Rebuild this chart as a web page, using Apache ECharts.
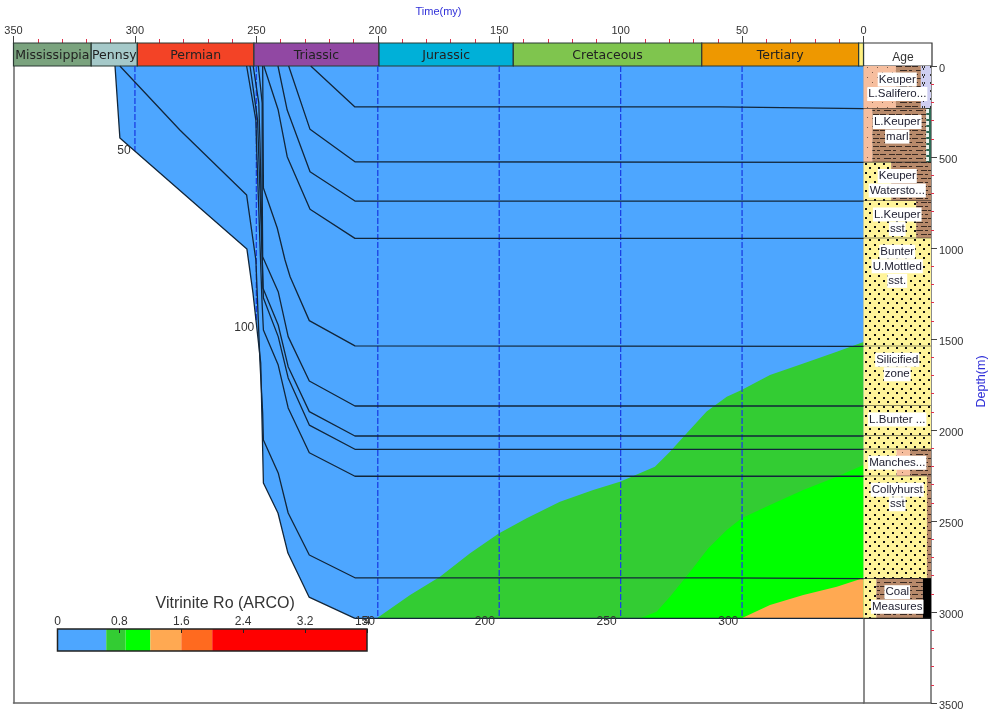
<!DOCTYPE html>
<html style="height: 100%">
<head>
<meta charset="utf-8">
<script src="https://cdn.jsdelivr.net/npm/echarts@6/dist/echarts.min.js"></script>
</head>
<body style="height: 100%; margin: 0; background: #fff">
<div id="container" style="width: 989px; height: 713px"></div>
<script type="text/javascript">
// geologic periods: names, start/end age (my), colour
var periodNames = ['Mississippia', 'Pennsy', 'Permian', 'Triassic', 'Jurassic', 'Cretaceous', 'Tertiary', ''];
var periodAges = [350, 318, 299, 251, 199.5, 144.2, 66.6, 2, 0];
var periodColors = ['#7AA37E', '#A5C9C9', '#F34326', '#9148A3', '#00B0D8', '#7FC54E', '#EE9800', '#FFF080'];

// basin outline [age, depth]
var basinEdge = [[308.2,0],[306.2,396],[253.9,1005],[251.4,1247],[248.2,1632],[247.1,2291],[241.1,2456],[237,2676],[228.3,2918],[209.4,3035]];
var basinBottom = [[209.4,3035],[0,3035]];

// burial history of each horizon [age, depth]
var horizon1 = [[227.6,0],[209.4,225],[59.1,225],[59,234],[0,234]];
var horizon2 = [[236.7,0],[227.9,348],[209.4,526],[0,530]];
var horizon3 = [[241.1,0],[237.3,242],[227.9,581],[209.4,742],[0,742]];
var horizon4 = [[246.9,0],[241,242],[237.3,498],[227.9,787],[209.4,947],[0,947]];
var horizon5 = [[247.4,0],[247.3,203],[247.1,670],[241.4,890],[238.2,1066],[236.1,1158],[228.2,1399],[209.4,1538],[0,1540]];
var horizon6 = [[249.2,0],[247.6,203],[247.6,665],[247.4,1048],[241,1240],[236.9,1487],[228.2,1731],[209.4,1868],[0,1868]];
var horizon7 = [[251.3,0],[249,203],[248.5,423],[247.3,1220],[241,1423],[236.9,1652],[228.2,1899],[209.4,2033],[0,2033]];
var horizon8 = [[252.6,0],[249.5,297],[247.7,1011],[247.1,1275],[241,1487],[236.9,1714],[228.2,1973],[209.4,2106],[0,2106]];
var horizon9 = [[254,0],[250.2,297],[249.9,445],[247.7,1286],[247.1,1451],[241,1643],[236.9,1879],[228.2,2125],[209.4,2254],[0,2254]];
var horizon10 = [[306.2,0],[281.5,352],[254,709],[250.2,1066],[248.5,1632],[247.4,1907],[247.1,2055],[241,2236],[236.9,2456],[228.2,2687],[209.4,2812],[59,2812],[59,2817],[0,2817]];

// Ro zone tops [age, depth]
var zoneGreenTop = [[200.4,3035],[186.7,2906],[174.4,2806],[162,2677],[150.2,2568],[138.7,2485],[125,2394],[111.3,2330],[100.3,2284],[85.9,2202],[79.7,2119],[72.8,2018],[64.6,1899],[56.3,1817],[50.2,1780],[38.5,1698],[24.8,1634],[11,1570],[0,1516]];
var zoneBrightTop = [[92,3035],[85.2,2998],[79.7,2916],[71.4,2779],[63.9,2650],[56.3,2549],[50.2,2485],[38.5,2412],[24.8,2330],[11,2257],[0,2192]];
var zoneOrangeTop = [[50.2,3035],[38.5,2961],[24.8,2906],[11,2861],[0,2813]];

// dashed time lines: age, depth they stop at
var timeLineAges = [300, 250, 200, 150, 100, 50];
var timeLineEnds = [467, 1400, 3035, 3035, 3035, 3035];

// temperature labels on the basin edge
var tempLabels = ['50', '100', '150', '200', '250', '300'];
var tempAges = [304.5, 255, 205.3, 155.9, 105.8, 55.7];
var tempDepths = [467, 1440, 3055, 3055, 3055, 3055];

// colour bar
var roStops = [0, 0.63, 0.88, 1.2, 1.6, 2, 4];
var roColors = ['#4DA6FF', '#33CC33', '#00FF00', '#FFA952', '#FF6A1F', '#FF0000'];

// lithology column
var lithDepths = [0, 234, 530, 742, 947, 1540, 1868, 2033, 2106, 2254, 2817, 3035];
var lithLabels = [['Keuper', 'L.Salifero...'], ['L.Keuper', 'marl'], ['Keuper', 'Watersto...'], ['L.Keuper', 'sst'], ['Bunter', 'U.Mottled', 'sst.'], ['Silicified', 'zone'], ['L.Bunter ...'], [], ['Manches...'], ['Collyhurst', 'sst'], ['Coal', 'Measures']];
var lithRocks = [['silt', 'shale', 'salt'], ['silt', 'shale', 'chert'], ['sand', 'shale'], ['sand', 'shale'], ['sand'], ['sand'], ['sand'], ['sand'], ['sand', 'silt', 'shale'], ['sand', 'shale'], ['sand', 'shale', 'coal']];
var lithEnds = [[48, 85, 100], [13, 93, 100], [41, 100], [78, 100], [100], [100], [100], [100], [49, 69, 100], [94, 100], [19, 88, 100]];

function tile(w, h, bg, draw) {
    var c = document.createElement('canvas');
    c.width = w; c.height = h;
    var ctx = c.getContext('2d');
    ctx.fillStyle = bg;
    ctx.fillRect(0, 0, w, h);
    draw(ctx);
    return { image: c, repeat: 'repeat' };
}
var rockFills = {
    sand: tile(9, 9, '#FFF49A', function (g) {
        g.fillStyle = '#111';
        g.fillRect(1, 1, 2, 2);
        g.fillRect(5, 5, 2, 2);
    }),
    silt: tile(10, 10, '#F6BE9E', function (g) {
        g.fillStyle = '#7a5a48';
        g.fillRect(2, 2, 1, 1);
        g.fillRect(7, 7, 1, 1);
    }),
    shale: tile(16, 8, '#B88A6B', function (g) {
        g.fillStyle = '#3a2a22';
        g.fillRect(0, 2, 6, 1);
        g.fillRect(9, 2, 6, 1);
        g.fillRect(4, 6, 7, 1);
        g.fillRect(13, 6, 3, 1);
    }),
    salt: tile(8, 8, '#CFCFF2', function (g) {
        g.fillStyle = '#333';
        g.fillRect(2, 2, 1, 2);
        g.fillRect(4, 2, 1, 2);
        g.fillRect(3, 4, 1, 2);
    }),
    chert: tile(5, 6, '#EAF5EE', function (g) {
        g.strokeStyle = '#2f6b55';
        g.strokeRect(0.5, 0.5, 4, 5);
    }),
    coal: '#000'
};

// filled polygon in age/depth coordinates
function polygonSeries(points, color) {
    return {
        type: 'custom', xAxisIndex: 1, yAxisIndex: 1, silent: true, data: [[0, 0]],
        renderItem: function (params, api) {
            return {
                type: 'polygon',
                shape: { points: points.map(function (p) { return api.coord(p); }) },
                style: { fill: color }
            };
        }
    };
}
function lineSeries(points, width) {
    return {
        type: 'line', xAxisIndex: 1, yAxisIndex: 1, silent: true, symbol: 'none', z: 4,
        data: points, lineStyle: { color: '#12263a', width: width || 1.3 }
    };
}

var series = [];
series.push(polygonSeries(basinEdge.concat([[0, 3035], [0, 0]]), roColors[0]));
series.push(polygonSeries(zoneGreenTop.concat([[0, 3035]]), roColors[1]));
series.push(polygonSeries(zoneBrightTop.concat([[0, 3035]]), roColors[2]));
series.push(polygonSeries(zoneOrangeTop.concat([[0, 3035]]), roColors[3]));

// time lines
timeLineAges.forEach(function (age, i) {
    series.push({
        type: 'line', xAxisIndex: 1, yAxisIndex: 1, silent: true, symbol: 'none', z: 3,
        data: [[age, 0], [age, timeLineEnds[i]]],
        lineStyle: { color: '#1B3FE4', width: 1.3, type: [6, 2] }
    });
});

[horizon1, horizon2, horizon3, horizon4, horizon5, horizon6, horizon7, horizon8, horizon9, horizon10, basinEdge, basinBottom].forEach(function (h) {
    series.push(lineSeries(h));
});

// period strip
series.push({
    type: 'custom', xAxisIndex: 0, yAxisIndex: 0, silent: true,
    data: periodNames.map(function (n, i) { return [periodAges[i], periodAges[i + 1], n]; }),
    renderItem: function (params, api) {
        var i = params.dataIndex;
        var a = api.coord([periodAges[i], 1]);
        var b = api.coord([periodAges[i + 1], 0]);
        return {
            type: 'rect',
            shape: { x: a[0], y: a[1], width: b[0] - a[0], height: b[1] - a[1] },
            style: { fill: periodColors[i], stroke: '#2b3a35', lineWidth: 1.2 },
            textContent: {
                type: 'text',
                style: { text: periodNames[i], fill: '#222', font: '12.5px "DejaVu Sans"' }
            },
            textConfig: { position: 'inside', offset: [0, 1.5] }
        };
    }
});

// lithology column
series.push({
    type: 'custom', xAxisIndex: 3, yAxisIndex: 4, silent: true,
    data: lithRocks.map(function (r, i) { return [i, lithDepths[i]]; }),
    renderItem: function (params, api) {
        var i = params.dataIndex;
        var top = lithDepths[i], bottom = lithDepths[i + 1];
        var kids = [];
        var from = 0;
        lithRocks[i].forEach(function (rock, k) {
            var a = api.coord([from, top]);
            var b = api.coord([lithEnds[i][k], bottom]);
            kids.push({
                type: 'rect',
                shape: { x: a[0], y: a[1], width: b[0] - a[0], height: b[1] - a[1] },
                style: { fill: rockFills[rock] }
            });
            from = lithEnds[i][k];
        });
        var l = api.coord([0, bottom]), r = api.coord([100, bottom]);
        kids.push({
            type: 'line',
            shape: { x1: l[0], y1: l[1], x2: r[0], y2: r[1] },
            style: { stroke: '#222', lineWidth: 1.2 }
        });
        var mid = api.coord([50, top]);
        lithLabels[i].forEach(function (t, k) {
            kids.push({
                type: 'text', z2: 5, x: mid[0], y: mid[1] + 13.5 + 14.5 * k,
                style: {
                    text: t, fill: '#223', font: '11.5px "Liberation Sans"', align: 'center', verticalAlign: 'middle',
                    backgroundColor: '#fff', padding: [1, 1]
                }
            });
        });
        return { type: 'group', children: kids };
    }
});

// temperature labels
series.push({
    type: 'custom', xAxisIndex: 1, yAxisIndex: 1, silent: true, z: 6,
    data: tempLabels.map(function (t, i) { return [tempAges[i], tempDepths[i]]; }),
    clip: false,
    renderItem: function (params, api) {
        var i = params.dataIndex;
        var p = api.coord([tempAges[i], tempDepths[i]]);
        return {
            type: 'text', x: p[0], y: p[1],
            style: { text: tempLabels[i], fill: '#333', font: '12px "Liberation Sans"', align: 'center', verticalAlign: 'middle' }
        };
    }
});

// colour bar
series.push({
    type: 'custom', xAxisIndex: 4, yAxisIndex: 5, silent: true, z: 5,
    data: roColors.map(function (c, i) { return [roStops[i], roStops[i + 1]]; }),
    renderItem: function (params, api) {
        var i = params.dataIndex;
        var a = api.coord([roStops[i], 1]);
        var b = api.coord([roStops[i + 1], 0]);
        return {
            type: 'rect',
            shape: { x: a[0], y: a[1], width: b[0] - a[0], height: b[1] - a[1] },
            style: { fill: roColors[i] }
        };
    }
});

function plainNumber(v) { return String(v); }
var grayLine = { show: true, onZero: false, lineStyle: { color: '#666', width: 1.5 } };
var hidden = function (grid) { return { gridIndex: grid, type: 'value', min: 0, max: 1, show: false }; };

var myChart = echarts.init(document.getElementById('container'));
myChart.setOption({
    animation: false,
    backgroundColor: '#fff',
    title: [{
        text: 'Age', left: 898, top: 47, textAlign: 'center',
        textStyle: { color: '#333', fontFamily: 'Liberation Sans', fontSize: 12, fontWeight: 'normal' }
    }],
    grid: [
        { left: 13.5, top: 43, width: 850, height: 23 },
        { left: 13.5, top: 66, width: 850, height: 637 },
        { left: 863.5, top: 43, width: 68.5, height: 23, show: true, backgroundColor: '#fff', borderColor: '#333', borderWidth: 1.2 },
        { left: 863.5, top: 66, width: 68.5, height: 637 },
        { left: 57.5, top: 629, width: 309.5, height: 22, show: true, backgroundColor: 'transparent', borderColor: '#222', borderWidth: 1.5, z: 7 }
    ],
    xAxis: [
        {
            gridIndex: 0, type: 'value', min: 0, max: 350, interval: 50, inverse: true, position: 'top',
            name: 'Time(my)', nameLocation: 'middle', nameGap: 26,
            nameTextStyle: { color: '#2F2FD8', fontFamily: 'Liberation Sans', fontSize: 11 },
            axisLine: { show: true, onZero: false, lineStyle: { color: '#444', width: 1.2 } },
            axisTick: { show: true, length: 7, lineStyle: { color: '#444' } },
            minorTick: { show: true, splitNumber: 5, length: 4, lineStyle: { color: '#E0304A' } },
            axisLabel: { color: '#333', fontFamily: 'Liberation Sans', fontSize: 11, margin: 7 },
            splitLine: { show: false }
        },
        {
            gridIndex: 1, type: 'value', min: 0, max: 350, inverse: true, position: 'bottom',
            axisLine: grayLine, axisTick: { show: false }, axisLabel: { show: false }, splitLine: { show: false }
        },
        hidden(2),
        {
            gridIndex: 3, type: 'value', min: 0, max: 100, position: 'bottom',
            axisLine: grayLine, axisTick: { show: false }, axisLabel: { show: false }, splitLine: { show: false }
        },
        {
            gridIndex: 4, type: 'value', min: 0, max: 4, interval: 0.8, position: 'top',
            name: 'Vitrinite Ro (ARCO)', nameLocation: 'middle', nameGap: 17,
            nameTextStyle: { color: '#333', fontFamily: 'Liberation Sans', fontSize: 16, padding: [0, 0, 0, 26] },
            axisLine: { show: false, onZero: false },
            axisTick: { show: true, inside: true, length: 4, lineStyle: { color: '#222' } },
            axisLabel: { color: '#333', fontFamily: 'Liberation Sans', fontSize: 12, margin: 1, showMaxLabel: true, showMinLabel: true },
            splitLine: { show: false }, z: 8
        }
    ],
    yAxis: [
        hidden(0),
        {
            gridIndex: 1, type: 'value', min: 0, max: 3500, inverse: true, position: 'left',
            axisLine: grayLine, axisTick: { show: false }, axisLabel: { show: false }, splitLine: { show: false }
        },
        {
            gridIndex: 1, type: 'value', min: 0, max: 3500, inverse: true, position: 'right',
            axisLine: grayLine, axisTick: { show: false }, axisLabel: { show: false }, splitLine: { show: false }
        },
        hidden(2),
        {
            gridIndex: 3, type: 'value', min: 0, max: 3500, interval: 500, inverse: true, position: 'right',
            name: 'Depth(m)', nameLocation: 'middle', nameGap: 44, nameRotate: 90,
            nameTextStyle: { color: '#2F2FD8', fontFamily: 'Liberation Sans', fontSize: 12.5, padding: [0, 0, 0, 6] },
            axisLine: grayLine,
            axisTick: { show: true, length: 6, lineStyle: { color: '#444' } },
            minorTick: { show: true, splitNumber: 5, length: 3, lineStyle: { color: '#E0304A' } },
            axisLabel: { color: '#333', fontFamily: 'Liberation Sans', fontSize: 11, margin: 8, verticalAlign: 'top', lineHeight: 6, formatter: plainNumber },
            splitLine: { show: false }
        },
        hidden(4)
    ],
    series: series
});
</script>
</body>
</html>
